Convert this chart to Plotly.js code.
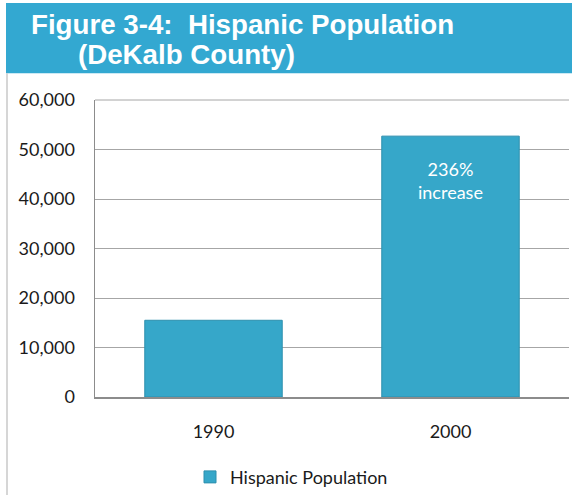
<!DOCTYPE html>
<html>
<head>
<meta charset="utf-8">
<script src="https://cdn.plot.ly/plotly-3.0.1.min.js"></script>
<style>
  html, body { margin: 0; padding: 0; background: #ffffff; }
  #chart { width: 572px; height: 499px; }
</style>
</head>
<body>
<div id="chart"></div>
<script>
// ---- data ----
const years = ['1990', '2000'];
const hispanicPopulation = [15500, 52700];
const barLabels = ['', '236%<br>increase'];
const seriesName = 'Hispanic Population';
const titleLine1 = 'Figure 3-4:  Hispanic Population';
const titleLine2 = '(DeKalb County)';

// ---- layout helpers (pixel -> paper) ----
const W = 572, H = 499;
const M = { l: 95, r: 3, t: 100, b: 99, pad: 0 };
const PW = W - M.l - M.r, PH = H - M.t - M.b;
const px = x => (x - M.l) / PW;
const py = y => 1 - (y - M.t) / PH;

const FONT = 'Lato, "Open Sans", sans-serif';
const barColor = '#36a7c9';

const trace = {
  type: 'bar',
  x: years,
  y: hispanicPopulation,
  name: seriesName,
  marker: { color: barColor, line: { color: '#2d8fae', width: 1 } },
  showlegend: true
};

const annotations = [
  { xref: 'paper', yref: 'paper', x: px(29), y: py(24), xanchor: 'left', yanchor: 'middle',
    text: '<b>' + titleLine1 + '</b>', showarrow: false,
    font: { family: '"Liberation Sans", Arial, sans-serif', size: 27.7, color: '#ffffff' } },
  { xref: 'paper', yref: 'paper', x: px(76), y: py(54), xanchor: 'left', yanchor: 'middle',
    text: '<b>' + titleLine2 + '</b>', showarrow: false,
    font: { family: '"Liberation Sans", Arial, sans-serif', size: 27.7, color: '#ffffff' } }
];
years.forEach((yr, i) => {
  if (barLabels[i]) {
    annotations.push({
      x: i, y: hispanicPopulation[i], xref: 'x', yref: 'y',
      yanchor: 'top', yshift: -20, showarrow: false,
      text: barLabels[i],
      font: { family: FONT, size: 18, color: '#ffffff' }
    });
  }
});

const layout = {
  width: W, height: H,
  margin: M,
  paper_bgcolor: '#ffffff',
  plot_bgcolor: '#ffffff',
  showlegend: true,
  bargap: 0.42,
  font: { family: FONT, size: 18, color: '#1a1a1a' },
  xaxis: {
    type: 'category',
    range: [-0.5, 1.5],
    autorange: false,
    showgrid: false,
    showline: true, linecolor: '#8c8c8c', linewidth: 1.5,
    ticks: 'outside', ticklen: 18, tickcolor: 'rgba(0,0,0,0)',
    tickfont: { family: FONT, size: 18, color: '#1a1a1a' },
    fixedrange: true
  },
  yaxis: {
    range: [0, 60000],
    autorange: false,
    dtick: 10000,
    tickformat: ',d',
    showgrid: true, gridcolor: '#a6a6a6', gridwidth: 1,
    showline: true, linecolor: '#8c8c8c', linewidth: 1.5,
    zeroline: false,
    ticks: 'outside', ticklen: 15, tickcolor: 'rgba(0,0,0,0)',
    tickfont: { family: FONT, size: 18, color: '#1a1a1a' },
    fixedrange: true
  },
  legend: {
    orientation: 'h',
    xref: 'paper', yref: 'paper',
    x: px(190), y: py(481), xanchor: 'left', yanchor: 'middle',
    font: { family: FONT, size: 18, color: '#1a1a1a' },
    bgcolor: 'rgba(0,0,0,0)'
  },
  shapes: [
    { type: 'rect', xref: 'paper', yref: 'paper', layer: 'below',
      x0: px(6), x1: px(572), y0: py(73), y1: py(2),
      fillcolor: '#33a8d1', line: { width: 0 } },
    { type: 'line', xref: 'paper', yref: 'paper', layer: 'below',
      x0: px(7), x1: px(7), y0: py(73), y1: py(499),
      line: { color: '#c8c8c8', width: 1.5 } },
    { type: 'line', xref: 'paper', yref: 'paper', layer: 'below',
      x0: 0, x1: 1, y0: 1, y1: 1,
      line: { color: '#a6a6a6', width: 1 } }
  ],
  annotations: annotations
};

try {
  Plotly.newPlot('chart', [trace], layout, { displayModeBar: false, staticPlot: true });
} catch (e) {
  document.body.insertAdjacentHTML('beforeend', '<pre>' + e + '</pre>');
}
</script>
</body>
</html>
